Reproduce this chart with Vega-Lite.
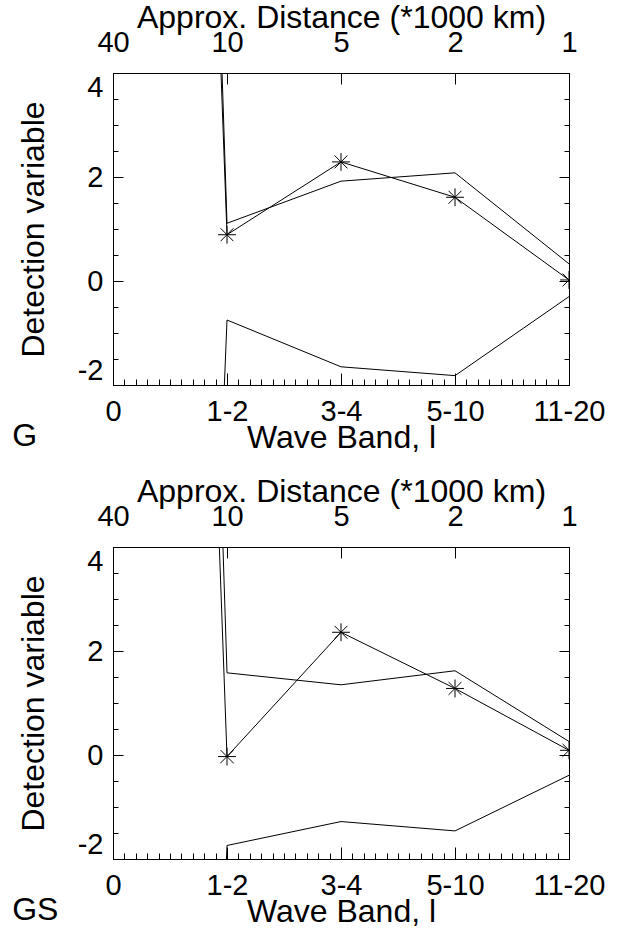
{
  "$schema": "https://vega.github.io/schema/vega-lite/v6.json",
  "background": "white",
  "padding": {"left": 11, "top": 0, "right": 5, "bottom": 0},
  "config": {
    "font": "Liberation Sans",
    "view": {"stroke": "black", "strokeWidth": 1},
    "axis": {
      "labelFont": "Liberation Sans", "titleFont": "Liberation Sans",
      "labelFontSize": 29, "titleFontSize": 32, "titleFontWeight": "normal",
      "labelColor": "black", "titleColor": "black", "domainColor": "black", "tickColor": "black",
      "grid": false, "domainWidth": 1, "tickWidth": 1, "labelOverlap": false, "labelBound": false
    },
    "title": {"font": "Liberation Sans", "fontSize": 32, "fontWeight": "normal", "color": "black"}
  },
  "data": {"values": [
    {"panel": "G", "band": 0, "series": "upper", "value": 68},
    {"panel": "G", "band": 1, "series": "upper", "value": 1.11},
    {"panel": "G", "band": 2, "series": "upper", "value": 1.92},
    {"panel": "G", "band": 3, "series": "upper", "value": 2.08},
    {"panel": "G", "band": 4, "series": "upper", "value": 0.33},
    {"panel": "G", "band": 0, "series": "data", "value": 60},
    {"panel": "G", "band": 1, "series": "data", "value": 0.89},
    {"panel": "G", "band": 2, "series": "data", "value": 2.29},
    {"panel": "G", "band": 3, "series": "data", "value": 1.61},
    {"panel": "G", "band": 4, "series": "data", "value": 0.02},
    {"panel": "G", "band": 0, "series": "lower", "value": -55},
    {"panel": "G", "band": 1, "series": "lower", "value": -0.75},
    {"panel": "G", "band": 2, "series": "lower", "value": -1.65},
    {"panel": "G", "band": 3, "series": "lower", "value": -1.82},
    {"panel": "G", "band": 4, "series": "lower", "value": -0.30},
    {"panel": "GS", "band": 0, "series": "upper", "value": 70},
    {"panel": "GS", "band": 1, "series": "upper", "value": 1.58},
    {"panel": "GS", "band": 2, "series": "upper", "value": 1.35},
    {"panel": "GS", "band": 3, "series": "upper", "value": 1.62},
    {"panel": "GS", "band": 4, "series": "upper", "value": 0.26},
    {"panel": "GS", "band": 0, "series": "data", "value": 60},
    {"panel": "GS", "band": 1, "series": "data", "value": -0.03},
    {"panel": "GS", "band": 2, "series": "data", "value": 2.36},
    {"panel": "GS", "band": 3, "series": "data", "value": 1.28},
    {"panel": "GS", "band": 4, "series": "data", "value": 0.09},
    {"panel": "GS", "band": 0, "series": "lower", "value": -55},
    {"panel": "GS", "band": 1, "series": "lower", "value": -1.74},
    {"panel": "GS", "band": 2, "series": "lower", "value": -1.28},
    {"panel": "GS", "band": 3, "series": "lower", "value": -1.46},
    {"panel": "GS", "band": 4, "series": "lower", "value": -0.39}
  ]},
  "spacing": 20,
  "vconcat": [
    {
      "width": 456, "height": 312,
      "title": {"text": "G", "orient": "bottom", "anchor": "start", "frame": "bounds", "offset": -32, "dx": -5},
      "transform": [{"filter": "datum.panel == 'G'"}],
      "layer": [
        {
          "transform": [{"filter": "datum.series == 'upper'"}],
          "mark": {"type": "line", "color": "black", "strokeWidth": 1, "clip": true},
          "encoding": {
            "x": {"field": "band", "type": "quantitative", "scale": {"domain": [0, 4], "nice": false, "zero": false},
              "axis": {"orient": "bottom", "title": "Wave Band, l",
                "values": [0,0.1,0.2,0.3,0.4,0.5,0.6,0.7,0.8,0.9,1,1.1,1.2,1.3,1.4,1.5,1.6,1.7,1.8,1.9,2,2.1,2.2,2.3,2.4,2.5,2.6,2.7,2.8,2.9,3,3.1,3.2,3.3,3.4,3.5,3.6,3.7,3.8,3.9,4],
                "labelExpr": "abs(datum.value)<0.01?'0':abs(datum.value-1)<0.01?'1-2':abs(datum.value-2)<0.01?'3-4':abs(datum.value-3)<0.01?'5-10':abs(datum.value-4)<0.01?'11-20':''",
                "tickSize": {"condition": {"test": "abs(datum.value-round(datum.value))<0.01", "value": -12}, "value": -6},
                "labelPadding": 24, "labelFlush": false, "titlePadding": -10}},
            "y": {"field": "value", "type": "quantitative", "scale": {"domain": [-2, 4], "nice": false, "zero": false},
              "axis": {"orient": "left", "title": "Detection variable",
                "values": [-2,-1.5,-1,-0.5,0,0.5,1,1.5,2,2.5,3,3.5,4],
                "labelExpr": "datum.value==4?'4':datum.value==2?'2':datum.value==0?'0':datum.value==-2?'-2':''",
                "tickSize": {"condition": {"test": "abs(datum.value/2-round(datum.value/2))<0.01", "value": -10}, "value": -5},
                "labelPadding": 20, "labelFlush": true, "titlePadding": 27}}
          }
        },
        {
          "transform": [{"filter": "datum.series == 'lower'"}],
          "mark": {"type": "line", "color": "black", "strokeWidth": 1, "clip": true},
          "encoding": {
            "x": {"field": "band", "type": "quantitative", "scale": {"domain": [0, 4], "nice": false, "zero": false},
              "axis": {"orient": "top", "title": "Approx. Distance (*1000 km)", "values": [0,1,2,3,4],
                "labelExpr": "['40','10','5','2','1'][round(datum.value)]",
                "tickSize": -11, "labelPadding": 27, "labelFlush": false, "titlePadding": -6}},
            "y": {"field": "value", "type": "quantitative", "scale": {"domain": [-2, 4], "nice": false, "zero": false},
              "axis": {"orient": "right", "title": null, "labels": false,
                "values": [-2,-1.5,-1,-0.5,0,0.5,1,1.5,2,2.5,3,3.5,4],
                "tickSize": {"condition": {"test": "abs(datum.value/2-round(datum.value/2))<0.01", "value": -10}, "value": -5}}}
          }
        },
        {
          "transform": [{"filter": "datum.series == 'data'"}],
          "mark": {"type": "line", "color": "black", "strokeWidth": 1, "clip": true},
          "encoding": {
            "x": {"field": "band", "type": "quantitative", "scale": {"domain": [0, 4], "nice": false, "zero": false}, "axis": null},
            "y": {"field": "value", "type": "quantitative", "scale": {"domain": [-2, 4], "nice": false, "zero": false}, "axis": null}
          }
        },
        {
          "transform": [{"filter": "datum.series == 'data'"}],
          "mark": {"type": "point", "shape": "M-1,0L1,0M0,-1L0,1M-0.72,-0.72L0.72,0.72M-0.72,0.72L0.72,-0.72", "size": 320, "filled": false, "stroke": "black", "strokeWidth": 1, "opacity": 1, "clip": true},
          "encoding": {
            "x": {"field": "band", "type": "quantitative", "scale": {"domain": [0, 4], "nice": false, "zero": false}, "axis": null},
            "y": {"field": "value", "type": "quantitative", "scale": {"domain": [-2, 4], "nice": false, "zero": false}, "axis": null}
          }
        }
      ],
      "resolve": {"scale": {"x": "independent", "y": "independent"}}
    },
    {
      "width": 456, "height": 312,
      "title": {"text": "GS", "orient": "bottom", "anchor": "start", "frame": "bounds", "offset": -32, "dx": -5},
      "transform": [{"filter": "datum.panel == 'GS'"}],
      "layer": [
        {
          "transform": [{"filter": "datum.series == 'upper'"}],
          "mark": {"type": "line", "color": "black", "strokeWidth": 1, "clip": true},
          "encoding": {
            "x": {"field": "band", "type": "quantitative", "scale": {"domain": [0, 4], "nice": false, "zero": false},
              "axis": {"orient": "bottom", "title": "Wave Band, l",
                "values": [0,0.1,0.2,0.3,0.4,0.5,0.6,0.7,0.8,0.9,1,1.1,1.2,1.3,1.4,1.5,1.6,1.7,1.8,1.9,2,2.1,2.2,2.3,2.4,2.5,2.6,2.7,2.8,2.9,3,3.1,3.2,3.3,3.4,3.5,3.6,3.7,3.8,3.9,4],
                "labelExpr": "abs(datum.value)<0.01?'0':abs(datum.value-1)<0.01?'1-2':abs(datum.value-2)<0.01?'3-4':abs(datum.value-3)<0.01?'5-10':abs(datum.value-4)<0.01?'11-20':''",
                "tickSize": {"condition": {"test": "abs(datum.value-round(datum.value))<0.01", "value": -12}, "value": -6},
                "labelPadding": 24, "labelFlush": false, "titlePadding": -10}},
            "y": {"field": "value", "type": "quantitative", "scale": {"domain": [-2, 4], "nice": false, "zero": false},
              "axis": {"orient": "left", "title": "Detection variable",
                "values": [-2,-1.5,-1,-0.5,0,0.5,1,1.5,2,2.5,3,3.5,4],
                "labelExpr": "datum.value==4?'4':datum.value==2?'2':datum.value==0?'0':datum.value==-2?'-2':''",
                "tickSize": {"condition": {"test": "abs(datum.value/2-round(datum.value/2))<0.01", "value": -10}, "value": -5},
                "labelPadding": 20, "labelFlush": true, "titlePadding": 27}}
          }
        },
        {
          "transform": [{"filter": "datum.series == 'lower'"}],
          "mark": {"type": "line", "color": "black", "strokeWidth": 1, "clip": true},
          "encoding": {
            "x": {"field": "band", "type": "quantitative", "scale": {"domain": [0, 4], "nice": false, "zero": false},
              "axis": {"orient": "top", "title": "Approx. Distance (*1000 km)", "values": [0,1,2,3,4],
                "labelExpr": "['40','10','5','2','1'][round(datum.value)]",
                "tickSize": -11, "labelPadding": 27, "labelFlush": false, "titlePadding": -6}},
            "y": {"field": "value", "type": "quantitative", "scale": {"domain": [-2, 4], "nice": false, "zero": false},
              "axis": {"orient": "right", "title": null, "labels": false,
                "values": [-2,-1.5,-1,-0.5,0,0.5,1,1.5,2,2.5,3,3.5,4],
                "tickSize": {"condition": {"test": "abs(datum.value/2-round(datum.value/2))<0.01", "value": -10}, "value": -5}}}
          }
        },
        {
          "transform": [{"filter": "datum.series == 'data'"}],
          "mark": {"type": "line", "color": "black", "strokeWidth": 1, "clip": true},
          "encoding": {
            "x": {"field": "band", "type": "quantitative", "scale": {"domain": [0, 4], "nice": false, "zero": false}, "axis": null},
            "y": {"field": "value", "type": "quantitative", "scale": {"domain": [-2, 4], "nice": false, "zero": false}, "axis": null}
          }
        },
        {
          "transform": [{"filter": "datum.series == 'data'"}],
          "mark": {"type": "point", "shape": "M-1,0L1,0M0,-1L0,1M-0.72,-0.72L0.72,0.72M-0.72,0.72L0.72,-0.72", "size": 320, "filled": false, "stroke": "black", "strokeWidth": 1, "opacity": 1, "clip": true},
          "encoding": {
            "x": {"field": "band", "type": "quantitative", "scale": {"domain": [0, 4], "nice": false, "zero": false}, "axis": null},
            "y": {"field": "value", "type": "quantitative", "scale": {"domain": [-2, 4], "nice": false, "zero": false}, "axis": null}
          }
        }
      ],
      "resolve": {"scale": {"x": "independent", "y": "independent"}}
    }
  ]
}
